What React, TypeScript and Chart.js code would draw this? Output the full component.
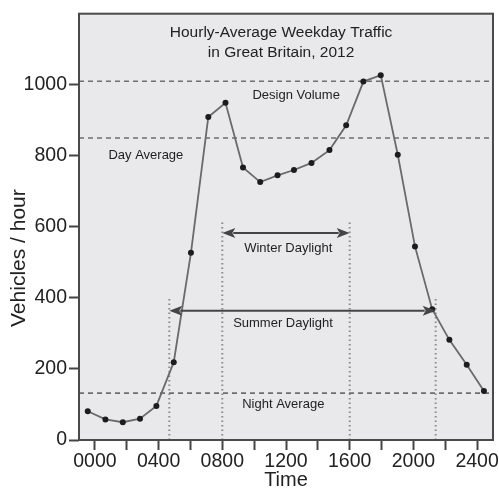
import React, { useEffect, useRef } from "react";
import { Chart, registerables } from "chart.js";

Chart.register(...registerables);

// ---- Data ----
const TIMES = [-45, 66, 175, 283, 386, 495, 603, 712, 820, 930, 1038, 1147, 1250, 1360, 1473, 1578, 1686, 1795, 1902, 2010, 2118, 2226, 2335, 2443];
const VEHICLES = [81, 58, 50, 60, 96, 219, 527, 909, 949, 767, 726, 745, 760, 780, 816, 886, 1009, 1027, 803, 545, 368, 282, 212, 138];

const X_TICKS = [0, 200, 400, 600, 800, 1000, 1200, 1400, 1600, 1800, 2000, 2200, 2400];
const X_TICK_LABELS = ["0000", "", "0400", "", "0800", "", "1200", "", "1600", "", "2000", "", "2400"];
const Y_TICKS = [0, 200, 400, 600, 800, 1000];

const DESIGN_VOLUME = 1010;
const DAY_AVERAGE = 850;
const NIGHT_AVERAGE = 132;
const WINTER_DAYLIGHT = [800, 1600];
const SUMMER_DAYLIGHT = [467, 2140];

const TITLE_LINES = ["Hourly-Average Weekday Traffic", "in Great Britain, 2012"];
const Y_TITLE = "Vehicles / hour";
const X_TITLE = "Time";

// ---- Annotation placement (data coordinates) ----
const X_MIN = -100;
const X_MAX = 2500;
const Y_MAX = 1200;
const WINTER_LINE_TOP = 615;
const SUMMER_LINE_TOP = 400;
const WINTER_ARROW_Y = 583;
const SUMMER_ARROW_Y = 364;
const LABELS = [
  { text: "Design Volume", x: 1264, y: 970 },
  { text: "Day Average", x: 320, y: 800 },
  { text: "Night Average", x: 1183, y: 101 },
  { text: "Winter Daylight", x: 1214, y: 540 },
  { text: "Summer Daylight", x: 1181, y: 328 },
];
const TITLE_POS = { x: 1169, y1: 1147, y2: 1091 };
const Y_TITLE_CENTER = 512; // data value at which the y title is centred

const FONT = "'Liberation Sans', Arial, Helvetica, sans-serif";

function hLine(y: number) {
  return [
    { x: X_MIN, y },
    { x: X_MAX, y },
  ];
}
function vLine(x: number, top: number) {
  return [
    { x, y: 0 },
    { x, y: top },
  ];
}

const decorPlugin = {
  id: "decor",
  beforeDraw(chart: any) {
    const { ctx, chartArea } = chart;
    ctx.save();
    ctx.fillStyle = "#e9e9eb";
    ctx.fillRect(chartArea.left, chartArea.top, chartArea.right - chartArea.left, chartArea.bottom - chartArea.top);
    ctx.restore();
  },
  afterDatasetsDraw(chart: any) {
    const { ctx, scales } = chart;
    const xs = scales.x;
    const ys = scales.y;
    const drawArrow = (x1: number, x2: number, yv: number) => {
      const px1 = xs.getPixelForValue(x1);
      const px2 = xs.getPixelForValue(x2);
      const py = ys.getPixelForValue(yv);
      const head = 13;
      const half = 5;
      ctx.save();
      ctx.strokeStyle = "#444";
      ctx.fillStyle = "#444";
      ctx.lineWidth = 2;
      ctx.beginPath();
      ctx.moveTo(px1 + head - 2, py);
      ctx.lineTo(px2 - head + 2, py);
      ctx.stroke();
      ctx.beginPath();
      ctx.moveTo(px1, py);
      ctx.lineTo(px1 + head, py - half);
      ctx.lineTo(px1 + head - 3, py);
      ctx.lineTo(px1 + head, py + half);
      ctx.closePath();
      ctx.fill();
      ctx.beginPath();
      ctx.moveTo(px2, py);
      ctx.lineTo(px2 - head, py - half);
      ctx.lineTo(px2 - head + 3, py);
      ctx.lineTo(px2 - head, py + half);
      ctx.closePath();
      ctx.fill();
      ctx.restore();
    };
    drawArrow(WINTER_DAYLIGHT[0], WINTER_DAYLIGHT[1], WINTER_ARROW_Y);
    drawArrow(SUMMER_DAYLIGHT[0], SUMMER_DAYLIGHT[1], SUMMER_ARROW_Y);

    ctx.save();
    ctx.fillStyle = "#222";
    ctx.textAlign = "center";
    ctx.textBaseline = "middle";
    ctx.font = `13px ${FONT}`;
    for (const l of LABELS) {
      ctx.fillText(l.text, xs.getPixelForValue(l.x), ys.getPixelForValue(l.y));
    }
    ctx.font = `15.5px ${FONT}`;
    ctx.fillText(TITLE_LINES[0], xs.getPixelForValue(TITLE_POS.x), ys.getPixelForValue(TITLE_POS.y1));
    ctx.fillText(TITLE_LINES[1], xs.getPixelForValue(TITLE_POS.x), ys.getPixelForValue(TITLE_POS.y2));
    ctx.restore();
  },
  afterDraw(chart: any) {
    const { ctx, chartArea, scales } = chart;
    ctx.save();
    ctx.strokeStyle = "#4a4a4a";
    ctx.lineWidth = 2;
    ctx.strokeRect(chartArea.left, chartArea.top, chartArea.right - chartArea.left, chartArea.bottom - chartArea.top);
    // y-axis title (placed like the reference, not centred on the plot)
    ctx.fillStyle = "#222";
    ctx.font = `21px ${FONT}`;
    ctx.textAlign = "center";
    ctx.textBaseline = "middle";
    ctx.translate(19, scales.y.getPixelForValue(Y_TITLE_CENTER));
    ctx.rotate(-Math.PI / 2);
    ctx.fillText(Y_TITLE, 0, 0);
    ctx.restore();
  },
};

export default function App() {
  const canvasRef = useRef<HTMLCanvasElement | null>(null);

  useEffect(() => {
    const canvas = canvasRef.current;
    if (!canvas) return;

    const dashed = {
      showLine: true,
      borderColor: "#6e6e6e",
      borderWidth: 1.6,
      borderDash: [5, 4],
      pointRadius: 0,
      order: 2,
    };
    const dotted = {
      showLine: true,
      borderColor: "#8a8a8a",
      borderWidth: 2,
      borderDash: [1.5, 3],
      pointRadius: 0,
      order: 2,
    };

    const chart = new Chart(canvas, {
      type: "scatter",
      data: {
        datasets: [
          {
            label: "Traffic",
            data: TIMES.map((t, i) => ({ x: t, y: VEHICLES[i] })),
            showLine: true,
            borderColor: "#6a6a6a",
            borderWidth: 1.8,
            pointRadius: 3,
            pointBackgroundColor: "#1c1c1c",
            pointBorderWidth: 0,
            order: 0,
          } as any,
          { ...dashed, label: "Design Volume", data: hLine(DESIGN_VOLUME) },
          { ...dashed, label: "Day Average", data: hLine(DAY_AVERAGE) },
          { ...dashed, label: "Night Average", data: hLine(NIGHT_AVERAGE) },
          { ...dotted, label: "Winter start", data: vLine(WINTER_DAYLIGHT[0], WINTER_LINE_TOP) },
          { ...dotted, label: "Winter end", data: vLine(WINTER_DAYLIGHT[1], WINTER_LINE_TOP) },
          { ...dotted, label: "Summer start", data: vLine(SUMMER_DAYLIGHT[0], SUMMER_LINE_TOP) },
          { ...dotted, label: "Summer end", data: vLine(SUMMER_DAYLIGHT[1], SUMMER_LINE_TOP) },
        ] as any,
      },
      options: {
        animation: false,
        responsive: false,
        layout: { padding: { left: 0, top: 11, right: 6, bottom: 0 } },
        plugins: {
          legend: { display: false },
          tooltip: { enabled: false },
        },
        scales: {
          x: {
            type: "linear",
            min: X_MIN,
            max: X_MAX,
            afterBuildTicks: (scale: any) => {
              scale.ticks = X_TICKS.map((v) => ({ value: v }));
            },
            afterFit: (scale: any) => {
              scale.height = 51;
            },
            ticks: {
              autoSkip: false,
              maxRotation: 0,
              padding: 0,
              color: "#222",
              font: { family: FONT, size: 19.5 },
              callback: (value: any) => {
                const i = X_TICKS.indexOf(Number(value));
                return i >= 0 ? X_TICK_LABELS[i] : "";
              },
            },
            grid: {
              drawOnChartArea: false,
              drawTicks: true,
              tickLength: 10,
              tickColor: "#444",
              tickWidth: 2,
            },
            border: { display: false },
            title: {
              display: true,
              text: X_TITLE,
              color: "#222",
              font: { family: FONT, size: 20, lineHeight: 1 },
              padding: { top: 0, bottom: 1 },
            },
          },
          y: {
            type: "linear",
            min: 0,
            max: Y_MAX,
            afterBuildTicks: (scale: any) => {
              scale.ticks = Y_TICKS.map((v) => ({ value: v }));
            },
            afterFit: (scale: any) => {
              scale.width = 79;
            },
            ticks: {
              padding: 2,
              color: "#222",
              font: { family: FONT, size: 19.5 },
              callback: (value: any) => String(value),
            },
            grid: {
              drawOnChartArea: false,
              drawTicks: true,
              tickLength: 10,
              tickColor: "#444",
              tickWidth: 2,
            },
            border: { display: false },
            title: { display: false },
          },
        },
      } as any,
      plugins: [decorPlugin],
    });

    return () => chart.destroy();
  }, []);

  return (
    <div style={{ position: "absolute", left: 0, top: 0, width: 499, height: 491, background: "#fff" }}>
      <canvas ref={canvasRef} width={499} height={491} style={{ display: "block" }} />
    </div>
  );
}
